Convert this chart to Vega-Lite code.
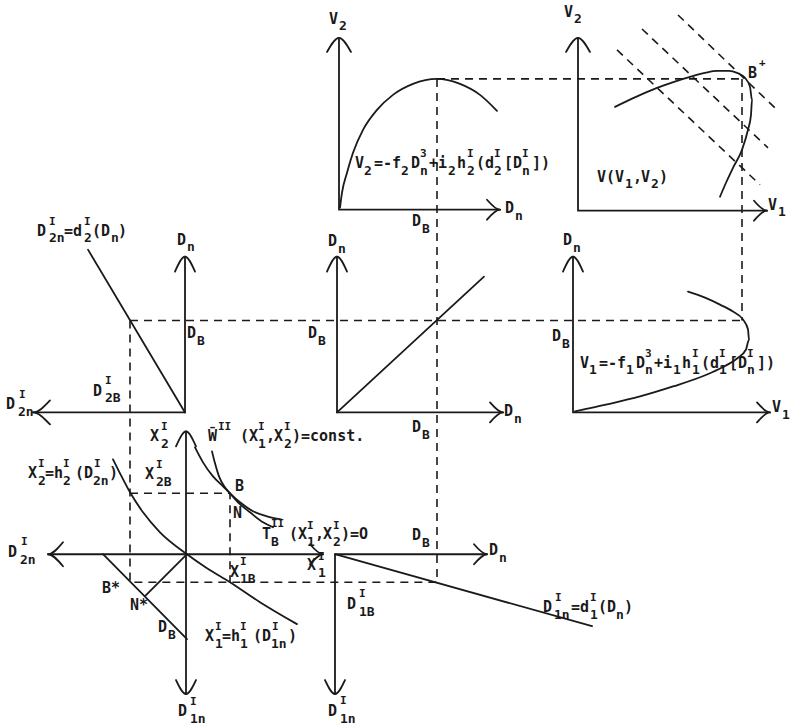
{
 "$schema": "https://vega.github.io/schema/vega-lite/v6.json",
 "width": 796, "height": 726,
 "autosize": {"type": "fit", "contains": "padding"},
 "padding": 0,
 "background": "white",
 "config": {"view": {"stroke": null}},
 "datasets": {
  "solid": [
   {"id":"a1","o":0,"x":339,"y":38},{"id":"a1","o":1,"x":339,"y":210},{"id":"a1","o":2,"x":500,"y":210},
   {"id":"a1h1","o":0,"x":327,"y":52},{"id":"a1h1","o":1,"x":339,"y":38},{"id":"a1h1","o":2,"x":351,"y":52},
   {"id":"a1h2","o":0,"x":487,"y":200},{"id":"a1h2","o":1,"x":500,"y":210},{"id":"a1h2","o":2,"x":487,"y":220},
   {"id":"a2","o":0,"x":578,"y":38},{"id":"a2","o":1,"x":578,"y":211},{"id":"a2","o":2,"x":767,"y":211},
   {"id":"a2h1","o":0,"x":566,"y":52},{"id":"a2h1","o":1,"x":578,"y":38},{"id":"a2h1","o":2,"x":590,"y":52},
   {"id":"a2h2","o":0,"x":754,"y":201},{"id":"a2h2","o":1,"x":767,"y":211},{"id":"a2h2","o":2,"x":754,"y":221},
   {"id":"a3","o":0,"x":185,"y":257},{"id":"a3","o":1,"x":185,"y":413},{"id":"a3","o":2,"x":33,"y":413},
   {"id":"a3h1","o":0,"x":175,"y":272},{"id":"a3h1","o":1,"x":185,"y":257},{"id":"a3h1","o":2,"x":195,"y":272},
   {"id":"a3h2","o":0,"x":50,"y":401},{"id":"a3h2","o":1,"x":33,"y":413},{"id":"a3h2","o":2,"x":50,"y":425},
   {"id":"a4","o":0,"x":337,"y":257},{"id":"a4","o":1,"x":337,"y":413},{"id":"a4","o":2,"x":503,"y":413},
   {"id":"a4h1","o":0,"x":327,"y":272},{"id":"a4h1","o":1,"x":337,"y":257},{"id":"a4h1","o":2,"x":347,"y":272},
   {"id":"a4h2","o":0,"x":490,"y":403},{"id":"a4h2","o":1,"x":503,"y":413},{"id":"a4h2","o":2,"x":490,"y":423},
   {"id":"a5","o":0,"x":573,"y":257},{"id":"a5","o":1,"x":573,"y":413},{"id":"a5","o":2,"x":770,"y":413},
   {"id":"a5h1","o":0,"x":563,"y":272},{"id":"a5h1","o":1,"x":573,"y":257},{"id":"a5h1","o":2,"x":583,"y":272},
   {"id":"a5h2","o":0,"x":757,"y":403},{"id":"a5h2","o":1,"x":770,"y":413},{"id":"a5h2","o":2,"x":757,"y":423},
   {"id":"a6","o":0,"x":186,"y":432},{"id":"a6","o":1,"x":186,"y":695},
   {"id":"a6h1","o":0,"x":176,"y":447},{"id":"a6h1","o":1,"x":186,"y":432},{"id":"a6h1","o":2,"x":196,"y":447},
   {"id":"a6h2","o":0,"x":176,"y":681},{"id":"a6h2","o":1,"x":186,"y":695},{"id":"a6h2","o":2,"x":196,"y":681},
   {"id":"a7","o":0,"x":48,"y":555},{"id":"a7","o":1,"x":323,"y":555},
   {"id":"a7h1","o":0,"x":63,"y":543},{"id":"a7h1","o":1,"x":48,"y":555},{"id":"a7h1","o":2,"x":63,"y":567},
   {"id":"a7h2","o":0,"x":310,"y":545},{"id":"a7h2","o":1,"x":323,"y":555},{"id":"a7h2","o":2,"x":310,"y":565},
   {"id":"a8","o":0,"x":335,"y":695},{"id":"a8","o":1,"x":335,"y":555},{"id":"a8","o":2,"x":487,"y":555},
   {"id":"a8h1","o":0,"x":325,"y":681},{"id":"a8h1","o":1,"x":335,"y":695},{"id":"a8h1","o":2,"x":345,"y":681},
   {"id":"a8h2","o":0,"x":474,"y":545},{"id":"a8h2","o":1,"x":487,"y":555},{"id":"a8h2","o":2,"x":474,"y":565},
   {"id":"c1","o":0,"x":340,"y":208},{"id":"c1","o":1,"x":342,"y":193},{"id":"c1","o":2,"x":347,"y":173},{"id":"c1","o":3,"x":353,"y":153},{"id":"c1","o":4,"x":363,"y":130},{"id":"c1","o":5,"x":377,"y":110},{"id":"c1","o":6,"x":393,"y":95},{"id":"c1","o":7,"x":413,"y":84},{"id":"c1","o":8,"x":437,"y":79},{"id":"c1","o":9,"x":460,"y":84},{"id":"c1","o":10,"x":480,"y":95},{"id":"c1","o":11,"x":497,"y":111},
   {"id":"c2","o":0,"x":615,"y":107},{"id":"c2","o":1,"x":636,"y":97},{"id":"c2","o":2,"x":657,"y":88},{"id":"c2","o":3,"x":674,"y":82},{"id":"c2","o":4,"x":690,"y":77},{"id":"c2","o":5,"x":705,"y":73},{"id":"c2","o":6,"x":717,"y":71},{"id":"c2","o":7,"x":729,"y":71},{"id":"c2","o":8,"x":737,"y":73},{"id":"c2","o":9,"x":745,"y":78},{"id":"c2","o":10,"x":750,"y":87},{"id":"c2","o":11,"x":752,"y":100},{"id":"c2","o":12,"x":751,"y":115},{"id":"c2","o":13,"x":748,"y":130},{"id":"c2","o":14,"x":742,"y":150},{"id":"c2","o":15,"x":733,"y":168},{"id":"c2","o":16,"x":726,"y":183},{"id":"c2","o":17,"x":720,"y":197},
   {"id":"c3","o":0,"x":88,"y":250},{"id":"c3","o":1,"x":185,"y":413},
   {"id":"c4","o":0,"x":337,"y":413},{"id":"c4","o":1,"x":484,"y":277},
   {"id":"c5","o":0,"x":688,"y":292},{"id":"c5","o":1,"x":705,"y":298},{"id":"c5","o":2,"x":720,"y":305},{"id":"c5","o":3,"x":733,"y":312},{"id":"c5","o":4,"x":743,"y":320},{"id":"c5","o":5,"x":748,"y":330},{"id":"c5","o":6,"x":749,"y":340},{"id":"c5","o":7,"x":746,"y":350},{"id":"c5","o":8,"x":737,"y":359},{"id":"c5","o":9,"x":722,"y":368},{"id":"c5","o":10,"x":707,"y":375},{"id":"c5","o":11,"x":673,"y":387},{"id":"c5","o":12,"x":640,"y":397},{"id":"c5","o":13,"x":607,"y":405},{"id":"c5","o":14,"x":575,"y":412},
   {"id":"c6","o":0,"x":113,"y":460},{"id":"c6","o":1,"x":120,"y":474},{"id":"c6","o":2,"x":130,"y":493},{"id":"c6","o":3,"x":143,"y":513},{"id":"c6","o":4,"x":160,"y":533},{"id":"c6","o":5,"x":187,"y":555},{"id":"c6","o":6,"x":207,"y":569},{"id":"c6","o":7,"x":230,"y":583},{"id":"c6","o":8,"x":260,"y":603},{"id":"c6","o":9,"x":297,"y":625},
   {"id":"c7","o":0,"x":103,"y":555},{"id":"c7","o":1,"x":187,"y":640},
   {"id":"c8","o":0,"x":187,"y":555},{"id":"c8","o":1,"x":145,"y":597},
   {"id":"c9","o":0,"x":195,"y":448},{"id":"c9","o":1,"x":203,"y":463},{"id":"c9","o":2,"x":213,"y":477},{"id":"c9","o":3,"x":223,"y":487},{"id":"c9","o":4,"x":230,"y":494},{"id":"c9","o":5,"x":240,"y":503},{"id":"c9","o":6,"x":253,"y":512},{"id":"c9","o":7,"x":267,"y":517},{"id":"c9","o":8,"x":281,"y":520},
   {"id":"c10","o":0,"x":212,"y":452},{"id":"c10","o":1,"x":215,"y":464},{"id":"c10","o":2,"x":219,"y":477},{"id":"c10","o":3,"x":225,"y":488},{"id":"c10","o":4,"x":230,"y":494},{"id":"c10","o":5,"x":238,"y":503},{"id":"c10","o":6,"x":250,"y":513},{"id":"c10","o":7,"x":263,"y":523},{"id":"c10","o":8,"x":273,"y":528},
   {"id":"c11","o":0,"x":335,"y":555},{"id":"c11","o":1,"x":592,"y":627}
  ],
  "dashed": [
   {"id":"d1","o":0,"x":437,"y":79},{"id":"d1","o":1,"x":742,"y":79},
   {"id":"d2","o":0,"x":437,"y":79},{"id":"d2","o":1,"x":437,"y":583},
   {"id":"d3","o":0,"x":742,"y":79},{"id":"d3","o":1,"x":742,"y":321},
   {"id":"d4","o":0,"x":130,"y":321},{"id":"d4","o":1,"x":742,"y":321},
   {"id":"d5","o":0,"x":130,"y":321},{"id":"d5","o":1,"x":130,"y":583},{"id":"d5","o":2,"x":437,"y":583},
   {"id":"d6","o":0,"x":130,"y":494},{"id":"d6","o":1,"x":230,"y":494},{"id":"d6","o":2,"x":230,"y":583},
   {"id":"d7","o":0,"x":617,"y":50},{"id":"d7","o":1,"x":760,"y":185},
   {"id":"d8","o":0,"x":642,"y":29},{"id":"d8","o":1,"x":768,"y":148},
   {"id":"d9","o":0,"x":678,"y":15},{"id":"d9","o":1,"x":777,"y":110}
  ],
  "labels": [
   {"r":"m","t":"V","x":329,"y":19},{"r":"s","t":"2","x":339,"y":26},
   {"r":"m","t":"D","x":505,"y":208},{"r":"s","t":"n","x":515,"y":216},
   {"r":"m","t":"D","x":412,"y":221},{"r":"s","t":"B","x":422,"y":229},
   {"r":"m","t":"V","x":355,"y":163},{"r":"s","t":"2","x":364,"y":171},{"r":"m","t":"=-f","x":374,"y":163},{"r":"s","t":"2","x":401,"y":171},{"r":"m","t":"D","x":411,"y":163},{"r":"p","t":"3","x":420,"y":154},{"r":"s","t":"n","x":420,"y":171},{"r":"m","t":"+i","x":429,"y":163},{"r":"s","t":"2","x":448,"y":171},{"r":"m","t":"h","x":457,"y":163},{"r":"p","t":"I","x":467,"y":154},{"r":"s","t":"2","x":467,"y":171},{"r":"m","t":"(d","x":476,"y":163},{"r":"p","t":"I","x":494,"y":154},{"r":"s","t":"2","x":494,"y":171},{"r":"m","t":"[D","x":504,"y":163},{"r":"p","t":"I","x":522,"y":154},{"r":"s","t":"n","x":522,"y":171},{"r":"m","t":"])","x":532,"y":163},
   {"r":"m","t":"V","x":564,"y":12},{"r":"s","t":"2","x":574,"y":19},
   {"r":"m","t":"V","x":768,"y":205},{"r":"s","t":"1","x":778,"y":212},
   {"r":"m","t":"V(V","x":597,"y":177},{"r":"s","t":"1","x":625,"y":184},{"r":"m","t":",","x":633,"y":177},{"r":"m","t":"V","x":641,"y":177},{"r":"s","t":"2","x":651,"y":184},{"r":"m","t":")","x":659,"y":177},
   {"r":"m","t":"B","x":748,"y":73},{"r":"p","t":"+","x":759,"y":63},
   {"r":"m","t":"D","x":37,"y":231},{"r":"p","t":"I","x":49,"y":222},{"r":"s","t":"2n","x":49,"y":238},{"r":"m","t":"=d","x":64,"y":231},{"r":"p","t":"I","x":84,"y":222},{"r":"s","t":"2","x":84,"y":238},{"r":"m","t":"(D","x":92,"y":231},{"r":"s","t":"n","x":111,"y":238},{"r":"m","t":")","x":118,"y":231},
   {"r":"m","t":"D","x":177,"y":240},{"r":"s","t":"n","x":187,"y":247},
   {"r":"m","t":"D","x":187,"y":333},{"r":"s","t":"B","x":197,"y":341},
   {"r":"m","t":"D","x":93,"y":392},{"r":"p","t":"I","x":105,"y":382},{"r":"s","t":"2B","x":105,"y":399},
   {"r":"m","t":"D","x":6,"y":405},{"r":"p","t":"I","x":19,"y":396},{"r":"s","t":"2n","x":18,"y":413},
   {"r":"m","t":"D","x":328,"y":241},{"r":"s","t":"n","x":338,"y":249},
   {"r":"m","t":"D","x":308,"y":333},{"r":"s","t":"B","x":318,"y":341},
   {"r":"m","t":"D","x":504,"y":412},{"r":"s","t":"n","x":514,"y":420},
   {"r":"m","t":"D","x":412,"y":428},{"r":"s","t":"B","x":422,"y":436},
   {"r":"m","t":"D","x":563,"y":240},{"r":"s","t":"n","x":573,"y":248},
   {"r":"m","t":"D","x":552,"y":336},{"r":"s","t":"B","x":562,"y":344},
   {"r":"m","t":"V","x":772,"y":408},{"r":"s","t":"1","x":782,"y":416},
   {"r":"m","t":"V","x":580,"y":363},{"r":"s","t":"1","x":589,"y":371},{"r":"m","t":"=-f","x":599,"y":363},{"r":"s","t":"1","x":626,"y":371},{"r":"m","t":"D","x":636,"y":363},{"r":"p","t":"3","x":645,"y":354},{"r":"s","t":"n","x":645,"y":371},{"r":"m","t":"+i","x":654,"y":363},{"r":"s","t":"1","x":673,"y":371},{"r":"m","t":"h","x":682,"y":363},{"r":"p","t":"I","x":692,"y":354},{"r":"s","t":"1","x":692,"y":371},{"r":"m","t":"(d","x":701,"y":363},{"r":"p","t":"I","x":719,"y":354},{"r":"s","t":"1","x":719,"y":371},{"r":"m","t":"[D","x":729,"y":363},{"r":"p","t":"I","x":747,"y":354},{"r":"s","t":"n","x":747,"y":371},{"r":"m","t":"])","x":757,"y":363},
   {"r":"m","t":"X","x":150,"y":437},{"r":"p","t":"I","x":161,"y":428},{"r":"s","t":"2","x":161,"y":445},
   {"r":"m","t":"X","x":145,"y":475},{"r":"p","t":"I","x":156,"y":466},{"r":"s","t":"2B","x":156,"y":483},
   {"r":"m","t":"X","x":28,"y":474},{"r":"p","t":"I","x":38,"y":465},{"r":"s","t":"2","x":38,"y":482},{"r":"m","t":"=h","x":45,"y":474},{"r":"p","t":"I","x":63,"y":465},{"r":"s","t":"2","x":63,"y":482},{"r":"m","t":"(D","x":75,"y":474},{"r":"p","t":"I","x":94,"y":465},{"r":"s","t":"2n","x":93,"y":482},{"r":"m","t":")","x":109,"y":474},
   {"r":"m","t":"D","x":8,"y":553},{"r":"p","t":"I","x":21,"y":543},{"r":"s","t":"2n","x":20,"y":561},
   {"r":"m","t":"B*","x":102,"y":589},
   {"r":"m","t":"N*","x":130,"y":606},
   {"r":"m","t":"D","x":158,"y":628},{"r":"s","t":"B","x":168,"y":636},
   {"r":"m","t":"X","x":205,"y":637},{"r":"p","t":"I","x":215,"y":628},{"r":"s","t":"1","x":215,"y":645},{"r":"m","t":"=h","x":222,"y":637},{"r":"p","t":"I","x":240,"y":628},{"r":"s","t":"1","x":240,"y":645},{"r":"m","t":"(D","x":253,"y":637},{"r":"p","t":"I","x":272,"y":628},{"r":"s","t":"1n","x":271,"y":645},{"r":"m","t":")","x":288,"y":637},
   {"r":"m","t":"D","x":178,"y":712},{"r":"p","t":"I","x":190,"y":703},{"r":"s","t":"1n","x":190,"y":720},
   {"r":"m","t":"W̄","x":208,"y":437},{"r":"p","t":"II","x":218,"y":428},{"r":"m","t":"(X","x":240,"y":437},{"r":"p","t":"I","x":258,"y":428},{"r":"s","t":"1","x":258,"y":445},{"r":"m","t":",","x":266,"y":437},{"r":"m","t":"X","x":274,"y":437},{"r":"p","t":"I","x":284,"y":428},{"r":"s","t":"2","x":284,"y":445},{"r":"m","t":")=const.","x":292,"y":437},
   {"r":"m","t":"B","x":235,"y":487},
   {"r":"m","t":"N","x":233,"y":514},
   {"r":"m","t":"T","x":262,"y":535},{"r":"p","t":"II","x":271,"y":525},{"r":"s","t":"B","x":271,"y":543},{"r":"m","t":"(X","x":289,"y":535},{"r":"p","t":"I","x":307,"y":527},{"r":"s","t":"1","x":307,"y":543},{"r":"m","t":",","x":315,"y":535},{"r":"m","t":"X","x":323,"y":535},{"r":"p","t":"I","x":333,"y":527},{"r":"s","t":"2","x":333,"y":543},{"r":"m","t":")=O","x":341,"y":535},
   {"r":"m","t":"X","x":230,"y":573},{"r":"p","t":"I","x":240,"y":563},{"r":"s","t":"1B","x":240,"y":580},
   {"r":"m","t":"X","x":307,"y":566},{"r":"p","t":"I","x":318,"y":558},{"r":"s","t":"1","x":318,"y":574},
   {"r":"m","t":"D","x":489,"y":551},{"r":"s","t":"n","x":499,"y":559},
   {"r":"m","t":"D","x":412,"y":536},{"r":"s","t":"B","x":422,"y":544},
   {"r":"m","t":"D","x":347,"y":605},{"r":"p","t":"I","x":359,"y":595},{"r":"s","t":"1B","x":359,"y":613},
   {"r":"m","t":"D","x":543,"y":608},{"r":"p","t":"I","x":555,"y":599},{"r":"s","t":"1n","x":554,"y":616},{"r":"m","t":"=d","x":571,"y":608},{"r":"p","t":"I","x":590,"y":599},{"r":"s","t":"1","x":590,"y":616},{"r":"m","t":"(D","x":598,"y":608},{"r":"s","t":"n","x":616,"y":616},{"r":"m","t":")","x":624,"y":608},
   {"r":"m","t":"D","x":328,"y":712},{"r":"p","t":"I","x":340,"y":702},{"r":"s","t":"1n","x":340,"y":720}
  ]
 },
 "layer": [
  {
   "data": {"name": "dashed"},
   "mark": {"type": "line", "strokeDash": [8, 6], "strokeWidth": 1.6, "color": "#1a1a1a"},
   "encoding": {
    "x": {"field": "x", "type": "quantitative", "scale": {"domain": [0, 796], "nice": false, "zero": false}, "axis": null},
    "y": {"field": "y", "type": "quantitative", "scale": {"domain": [0, 726], "nice": false, "zero": false, "reverse": true}, "axis": null},
    "detail": {"field": "id", "type": "nominal"},
    "order": {"field": "o", "type": "quantitative"}
   }
  },
  {
   "data": {"name": "solid"},
   "mark": {"type": "line", "strokeWidth": 1.8, "color": "#1a1a1a", "strokeJoin": "round", "strokeCap": "round", "interpolate": "monotone"},
   "encoding": {
    "x": {"field": "x", "type": "quantitative"},
    "y": {"field": "y", "type": "quantitative"},
    "detail": {"field": "id", "type": "nominal"},
    "order": {"field": "o", "type": "quantitative"}
   }
  },
  {
   "data": {"name": "labels"},
   "mark": {"type": "text", "align": "left", "baseline": "middle", "font": "DejaVu Sans Mono", "fontWeight": "bold", "color": "#1a1a1a"},
   "encoding": {
    "x": {"field": "x", "type": "quantitative"},
    "y": {"field": "y", "type": "quantitative"},
    "text": {"field": "t", "type": "nominal"},
    "size": {"field": "r", "type": "ordinal", "scale": {"domain": ["m", "s", "p"], "range": [15, 11, 11]}, "legend": null}
   }
  }
 ]
}
